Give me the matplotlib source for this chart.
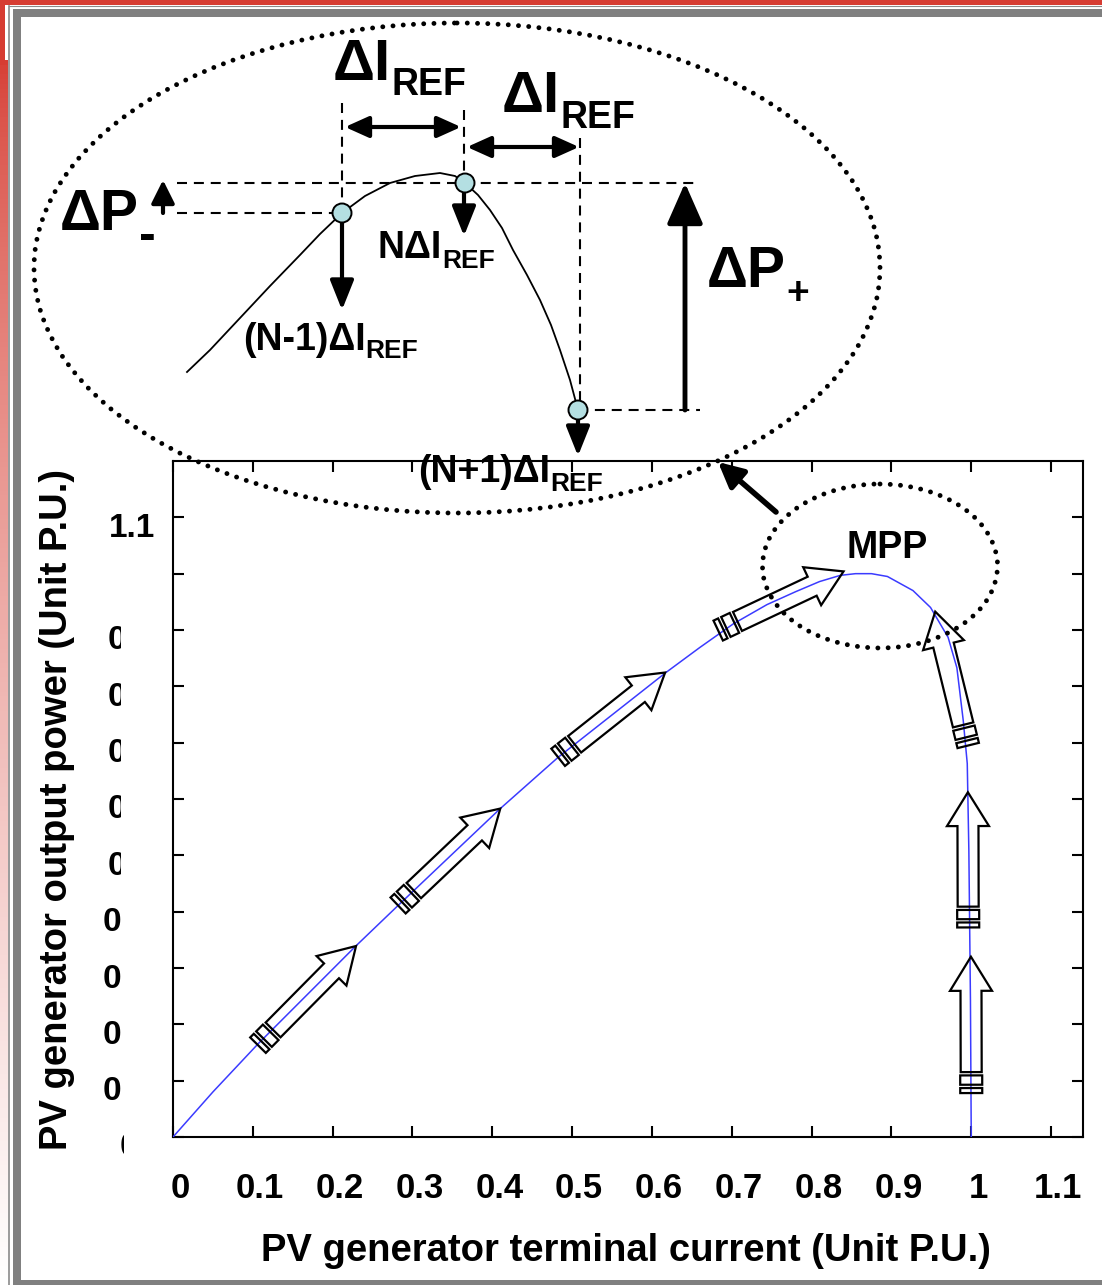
import numpy as np
import matplotlib.pyplot as plt
from matplotlib.patches import Polygon, Ellipse, Rectangle, Circle
from matplotlib.transforms import Bbox

W, H = 1102, 1285
FONT = ['Liberation Sans', 'DejaVu Sans']

# P-I curve of the PV generator, P.U.
current = [0, 0.05, 0.107, 0.229, 0.282, 0.41, 0.4825, 0.617, 0.66, 0.702,
           0.744, 0.78, 0.81, 0.836, 0.855, 0.875, 0.895, 0.927, 0.949, 0.971,
           0.982, 0.990, 0.995, 0.997, 0.999, 1.0]
power = [0, 0.08, 0.166, 0.339, 0.411, 0.583, 0.674, 0.824, 0.869, 0.911,
         0.945, 0.968, 0.986, 0.997, 1.0, 1.0, 0.995, 0.970, 0.940, 0.887,
         0.833, 0.739, 0.663, 0.509, 0.243, 0.0]

x_ticks = [0, 0.1, 0.2, 0.3, 0.4, 0.5, 0.6, 0.7, 0.8, 0.9, 1.0, 1.1]
x_tick_labels = ['0', '0.1', '0.2', '0.3', '0.4', '0.5', '0.6', '0.7',
                 '0.8', '0.9', '1', '1.1']
y_ticks = [0, 0.1, 0.2, 0.3, 0.4, 0.5, 0.6, 0.7, 0.8, 0.9, 1.0, 1.1]
# what is left visible of the y labels in the picture
y_tick_labels = ['0', '0', '0', '0', '0', '0', '0', '0', '0', '0', '', '1.1']

# hollow step arrows along the curve: (tail, tip) in data units
step_tails = [(0.1065, 0.163), (0.282, 0.411), (0.4825, 0.674), (0.683, 0.899),
              (0.9962, 0.695), (0.9962, 0.372), (1.0, 0.078)]
step_tips = [(0.2293, 0.339), (0.41, 0.583), (0.6165, 0.8245), (0.840, 1.004),
             (0.9549, 0.9326), (0.9958, 0.612), (0.9996, 0.320)]

# zoomed sketch of the hill-climbing steps (figure pixels)
inset_x = [187, 210, 240, 270, 300, 320, 342, 365, 390, 415, 440, 455, 465,
           478, 490, 502, 513, 527, 540, 551, 560, 570, 578]
inset_y = [372, 350, 318, 286, 255, 234, 213, 196, 183, 176, 173, 176, 183,
           195, 210, 228, 250, 275, 300, 325, 350, 380, 410]
inset_pts = [(342, 213), (465, 183), (578, 410)]

fig = plt.figure(figsize=(W / 100, H / 100), dpi=100)
fig.patch.set_facecolor('white')

ax = fig.add_axes([173 / W, 1 - 1137 / H, 910 / W, 676 / H])
ax.plot(current, power, color='#3b3bff', lw=1.1, zorder=3)
ax.set_xlim(0, 1.14)
ax.set_ylim(0, 1.2)
ax.set_xticks(x_ticks)
ax.set_xticklabels([])
ax.set_yticks(y_ticks)
ax.set_yticklabels([])
ax.tick_params(direction='in', length=8, width=1.5, top=True, right=True)
for s in ax.spines.values():
    s.set_linewidth(1.5)

# overlay in pixel units for frame, labels and sketch
ov = fig.add_axes([0, 0, 1, 1], zorder=5)
ov.set_xlim(0, W)
ov.set_ylim(H, 0)
ov.axis('off')
ov.patch.set_visible(False)
rend = fig.canvas.get_renderer()


def to_px(pt):
    d = ax.transData.transform(pt)
    return ov.transData.inverted().transform(d)


# slide frame
grad = np.linspace(0, 1, 256)[:, None]
red = np.array([0.84, 0.24, 0.2])
col = red[None, None, :] * (1 - grad[..., None] ** 0.7) + np.ones(3) * grad[..., None] ** 0.7
ov.imshow(col, extent=(0, 8, H, 60), aspect='auto', zorder=1)
ov.add_patch(Rectangle((0, 0), 4.5, 65, color='#d63c32', lw=0, zorder=1))
ov.add_patch(Rectangle((0, 0), W, 4.5, color='#d63c32', lw=0, zorder=1))
ov.plot([8.5, W], [5.5, 5.5], color='#8a8a8a', lw=0.8, zorder=1)
ov.plot([9, 9], [5.5, H], color='#8a8a8a', lw=1.2, zorder=1)
ov.add_patch(Rectangle((13, 9), W, 8, color='#808080', lw=0, zorder=1))
ov.add_patch(Rectangle((13, 9), 8, H, color='#808080', lw=0, zorder=1))
ov.add_patch(Rectangle((13, 1280), W, 8, color='#808080', lw=0, zorder=1))

# axis labels
ov.text(626, 1251, 'PV generator terminal current (Unit P.U.)', fontsize=27.5,
        fontweight='bold', family=FONT, ha='center', va='center')
ov.text(57, 810, 'PV generator output power (Unit P.U.)', fontsize=27.5,
        fontweight='bold', family=FONT, ha='center', va='center', rotation=90)

for v, lab in zip(x_ticks, x_tick_labels):
    px, py = to_px((v, 0))
    ov.text(px + 7, 1189, lab, fontsize=25, fontweight='bold', family=FONT,
            ha='center', va='center')

for v, lab in zip(y_ticks, y_tick_labels):
    if not lab:
        continue
    px, py = to_px((0, v))
    if lab == '1.1':
        ov.text(155, py + 11, lab, fontsize=24, fontweight='bold', family=FONT,
                ha='right', va='center')
        continue
    if v == 0:
        xl, xc = 120, 124
    elif v < 0.45:
        xl, xc = 103, 130
    else:
        xl, xc = 108, 121
    t = ov.text(xl, py + 11, lab, fontsize=24, fontweight='bold', family=FONT,
                ha='left', va='center', clip_on=True)
    t.set_clip_path(None)
    t.set_clip_box(Bbox.from_extents(0, 0, xc, H))

# hollow step arrows
seg = [5, 3.3, 9.3, 3.3, 81, 34]
for tail, tip in zip(step_tails, step_tips):
    a = np.array(to_px(tail))
    b = np.array(to_px(tip))
    L = np.hypot(*(b - a))
    u = (b - a) / L
    n = np.array([-u[1], u[0]])
    k = L / sum(seg)
    s = np.cumsum([0] + seg) * k
    w, hw, rw = 10.5, 21, 11

    def P(al, ac):
        return a + u * al + n * ac

    arrow = [P(s[4], -w), P(s[5], -w), P(s[5], -hw), P(s[6], 0),
             P(s[5], hw), P(s[5], w), P(s[4], w)]
    ov.add_patch(Polygon(arrow, closed=True, fill=False, ec='k', lw=1.6, zorder=4))
    for i0, i1 in [(0, 1), (2, 3)]:
        rect = [P(s[i0], -rw), P(s[i1], -rw), P(s[i1], rw), P(s[i0], rw)]
        ov.add_patch(Polygon(rect, closed=True, fill=False, ec='k', lw=1.6, zorder=4))

# MPP marker
dots = (0, (0.01, 2.1))
e = Ellipse((880, 566), 235, 164, fill=False, ec='k', lw=3.5, ls=dots, zorder=4)
e.set_capstyle('round')
ov.add_patch(e)
ov.text(887, 548, 'MPP', fontsize=27, fontweight='bold', family=FONT,
        ha='center', va='center', zorder=6)
ov.annotate('', xy=(718, 462), xytext=(776, 512),
            arrowprops=dict(arrowstyle='-|>,head_length=0.5,head_width=0.25',
                            lw=4, color='k', mutation_scale=30,
                            shrinkA=0, shrinkB=0))

# big zoom ellipse
E = Ellipse((457, 268), 846, 490, fill=False, ec='k', lw=3.5, ls=dots, zorder=4)
E.set_capstyle('round')
ov.add_patch(E)

ov.plot(inset_x, inset_y, color='k', lw=1.3, zorder=5)

dash = (0, (4.8, 3.3))
dkw = dict(color='k', lw=1.5, ls=dash, zorder=4)
ov.plot([177, 700], [183, 183], **dkw)
ov.plot([177, 342], [213, 213], **dkw)
ov.plot([578, 700], [410, 410], **dkw)
ov.plot([342, 342], [103, 213], **dkw)
ov.plot([464, 464], [110, 183], **dkw)
ov.plot([580, 580], [138, 410], **dkw)

dbl = dict(arrowstyle='<|-|>,head_length=0.4,head_width=0.18', lw=3, color='k',
           mutation_scale=36, shrinkA=0, shrinkB=0)
ov.annotate('', xy=(345, 127), xytext=(461, 127), arrowprops=dbl)
ov.annotate('', xy=(467, 147), xytext=(579, 147), arrowprops=dbl)

one = dict(arrowstyle='-|>,head_length=0.45,head_width=0.18', lw=3, color='k',
           mutation_scale=40, shrinkA=0, shrinkB=0)
ov.annotate('', xy=(342, 310), xytext=(342, 222), arrowprops=one)
ov.annotate('', xy=(464, 236), xytext=(464, 190), arrowprops=one)
ov.annotate('', xy=(578, 456), xytext=(578, 418), arrowprops=one)
ov.annotate('', xy=(163, 180), xytext=(163, 213),
            arrowprops=dict(arrowstyle='-|>,head_length=0.5,head_width=0.25',
                            lw=3, color='k', mutation_scale=28,
                            shrinkA=0, shrinkB=0))
ov.annotate('', xy=(685, 183), xytext=(685, 410),
            arrowprops=dict(arrowstyle='-|>,head_length=0.5,head_width=0.22',
                            lw=3.5, color='k', mutation_scale=50,
                            shrinkA=0, shrinkB=0))

for cx, cy in inset_pts:
    ov.add_patch(Circle((cx, cy), 9.5, fc='#b4dfe2', ec='k', lw=1.4, zorder=6))


def sub_text(x, y, main, sub, size, sub_size, drop):
    t = ov.text(x, y, main, fontsize=size, fontweight='bold', family=FONT,
                ha='left', va='baseline', zorder=6)
    bb = t.get_window_extent(renderer=rend)
    x2 = ov.transData.inverted().transform((bb.x1, bb.y0))[0]
    ov.text(x2, y + drop, sub, fontsize=sub_size, fontweight='bold', family=FONT,
            ha='left', va='baseline', zorder=6)


sub_text(333, 80, 'ΔI', 'REF', 42, 27, 15)
sub_text(502, 112, 'ΔI', 'REF', 42, 27, 16)
sub_text(60, 230, 'ΔP', '-', 41, 36, 20)
sub_text(707, 287, 'ΔP', '+', 41, 28, 17)
sub_text(378, 258, 'NΔI', 'REF', 27, 19, 10)
sub_text(243, 350, '(N-1)ΔI', 'REF', 27, 19, 8)
sub_text(418, 482, '(N+1)ΔI', 'REF', 27, 19, 9)

fig.savefig('out.png', dpi=100)
